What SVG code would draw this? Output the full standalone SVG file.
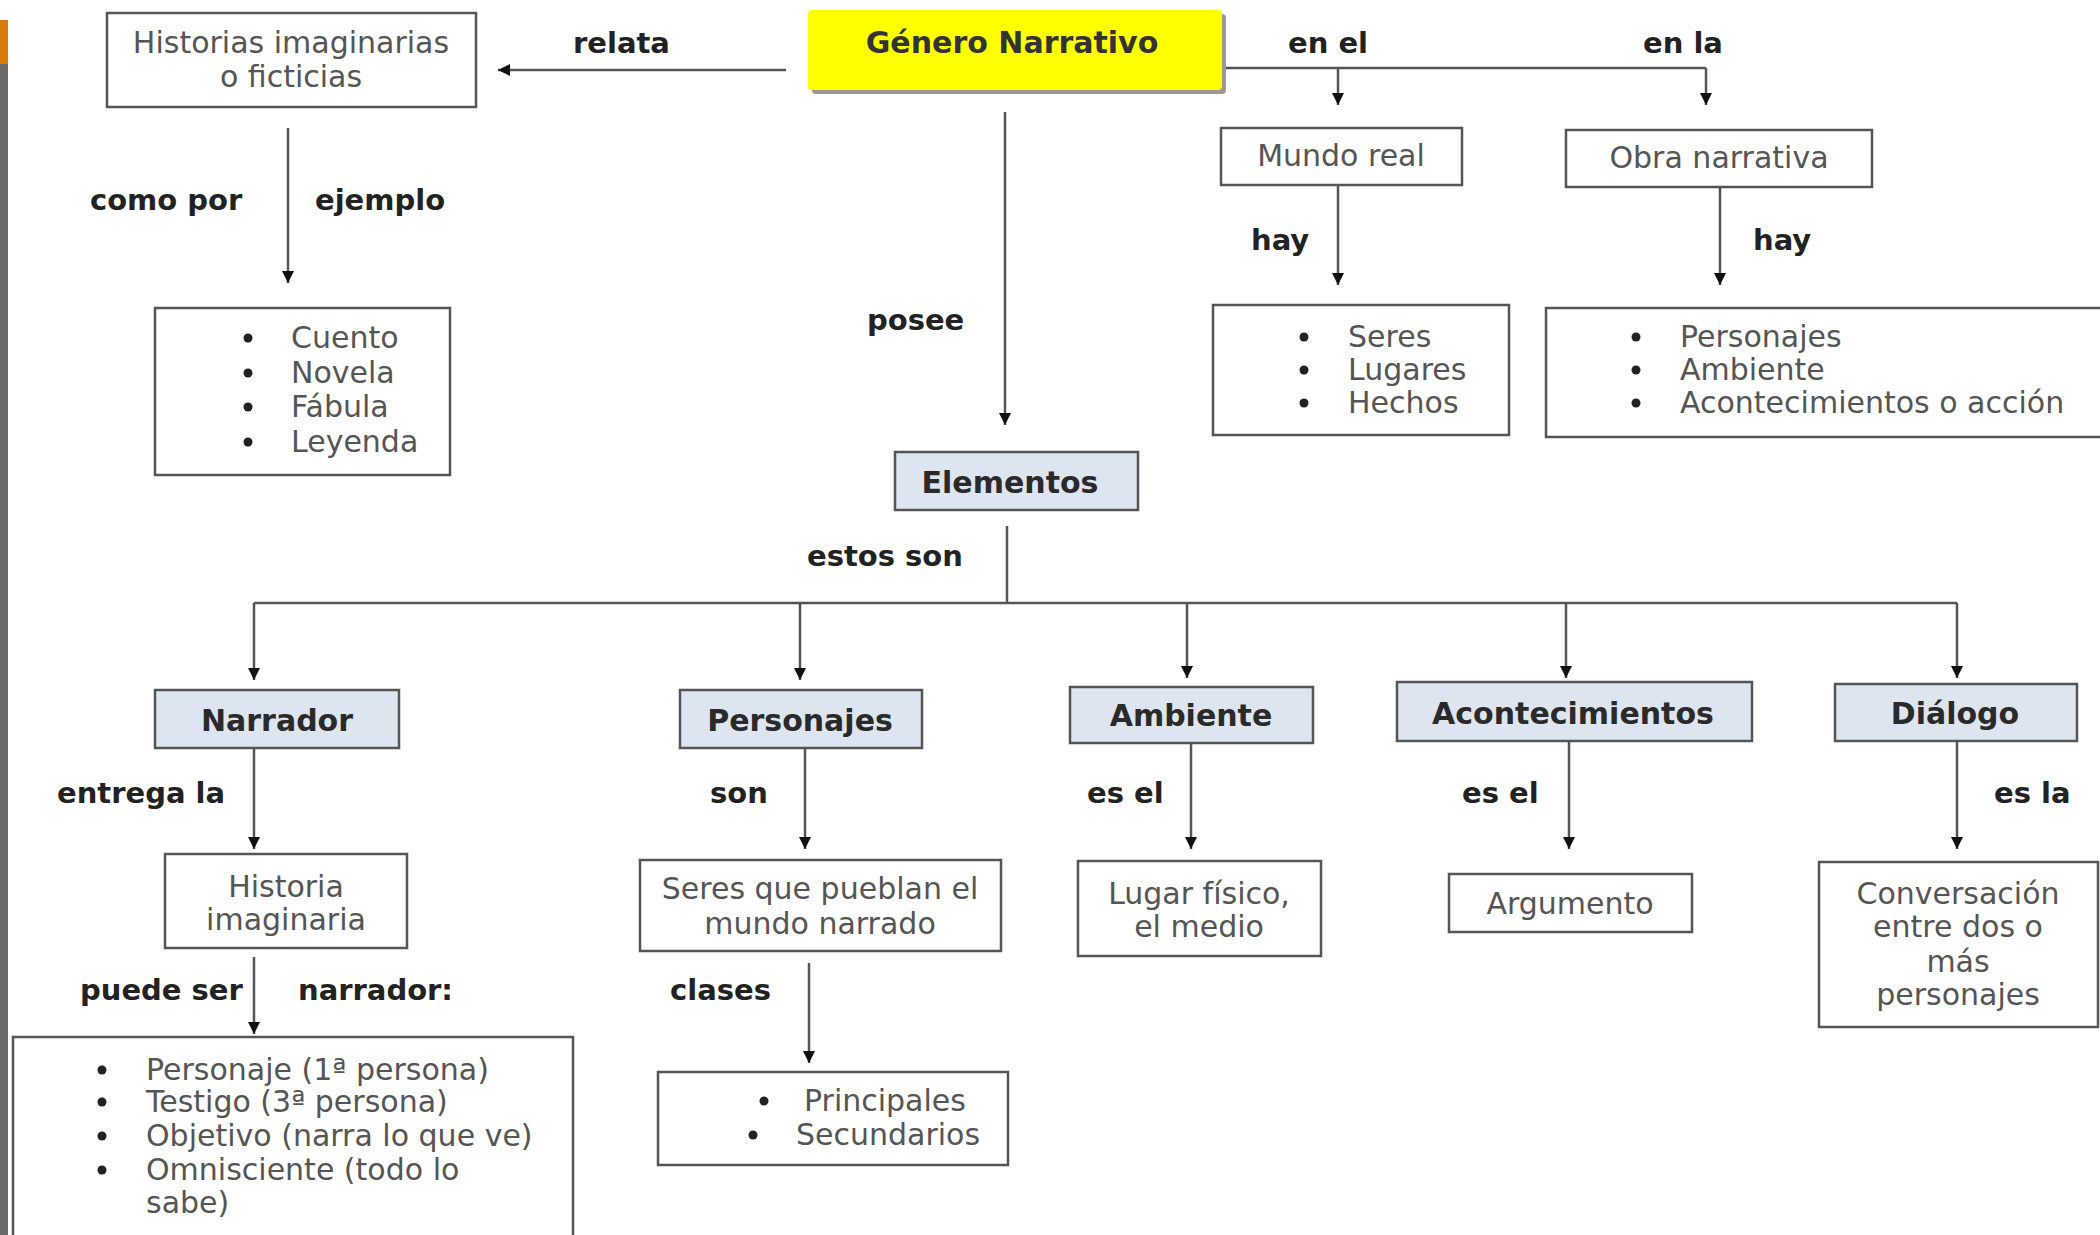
<svg xmlns="http://www.w3.org/2000/svg" width="2100" height="1235" viewBox="0 0 2100 1235">
<defs>
<marker id="ah" viewBox="0 0 10 10" refX="10" refY="5" markerWidth="12" markerHeight="15" markerUnits="userSpaceOnUse" orient="auto">
<path d="M0,0 L10,5 L0,10 z" fill="#111"/>
</marker>
<style>
.box{fill:#fff;stroke:#555;stroke-width:2.5}
.hdr{fill:#dde5f0;stroke:#555;stroke-width:2.5}
.t{font-family:"DejaVu Sans",Verdana,sans-serif;font-size:30px;fill:#555}
.tc{font-family:"DejaVu Sans",Verdana,sans-serif;font-size:30px;fill:#555;text-anchor:middle}
.h{font-family:"DejaVu Sans",Verdana,sans-serif;font-size:30px;font-weight:bold;fill:#2a2a2a;text-anchor:middle}
.lb{font-family:"DejaVu Sans",Verdana,sans-serif;font-size:29px;font-weight:bold;fill:#222}
.c{fill:none;stroke:#555;stroke-width:2.5}
.a{fill:none;stroke:#555;stroke-width:2.5;marker-end:url(#ah)}
.bul{fill:#222}
</style>
</defs>
<rect width="2100" height="1235" fill="#fff"/>
<rect x="0" y="20" width="8" height="44" fill="#d97b0a"/>
<rect x="0" y="64" width="8" height="1171" fill="#6a6a6a"/>

<g id="connectors">
<line class="a" x1="786" y1="70" x2="498" y2="70"/>
<line class="a" x1="288" y1="128" x2="288" y2="283"/>
<line class="a" x1="1005" y1="112" x2="1005" y2="425"/>
<polyline class="c" points="1222,68 1706,68"/>
<line class="a" x1="1338" y1="68" x2="1338" y2="105"/>
<line class="a" x1="1706" y1="68" x2="1706" y2="105"/>
<line class="a" x1="1338" y1="185" x2="1338" y2="285"/>
<line class="a" x1="1720" y1="187" x2="1720" y2="285"/>
<line class="c" x1="1007" y1="526" x2="1007" y2="603"/>
<line class="c" x1="254" y1="603" x2="1957" y2="603"/>
<line class="a" x1="254" y1="603" x2="254" y2="680"/>
<line class="a" x1="800" y1="603" x2="800" y2="680"/>
<line class="a" x1="1187" y1="603" x2="1187" y2="678"/>
<line class="a" x1="1566" y1="603" x2="1566" y2="678"/>
<line class="a" x1="1957" y1="603" x2="1957" y2="678"/>
<line class="a" x1="254" y1="748" x2="254" y2="849"/>
<line class="a" x1="805" y1="748" x2="805" y2="849"/>
<line class="a" x1="1191" y1="743" x2="1191" y2="849"/>
<line class="a" x1="1569" y1="741" x2="1569" y2="849"/>
<line class="a" x1="1957" y1="741" x2="1957" y2="849"/>
<line class="a" x1="254" y1="957" x2="254" y2="1034"/>
<line class="a" x1="809" y1="963" x2="809" y2="1063"/>
</g>

<g id="labels">
<text class="lb" x="573" y="53">relata</text>
<text class="lb" x="1288" y="53">en el</text>
<text class="lb" x="1643" y="53">en la</text>
<text class="lb" x="90" y="210">como por</text>
<text class="lb" x="315" y="210">ejemplo</text>
<text class="lb" x="867" y="330">posee</text>
<text class="lb" x="1251" y="250">hay</text>
<text class="lb" x="1753" y="250">hay</text>
<text class="lb" x="807" y="566">estos son</text>
<text class="lb" x="57" y="803">entrega la</text>
<text class="lb" x="710" y="803">son</text>
<text class="lb" x="1087" y="803">es el</text>
<text class="lb" x="1462" y="803">es el</text>
<text class="lb" x="1994" y="803">es la</text>
<text class="lb" x="80" y="1000">puede ser</text>
<text class="lb" x="298" y="1000">narrador:</text>
<text class="lb" x="670" y="1000">clases</text>
</g>

<g id="genero">
<rect x="812" y="14" width="414" height="80" rx="4" fill="#9a9a9a"/>
<rect x="808" y="10" width="414" height="80" rx="4" fill="#ffff00"/>
<text class="h" x="1012" y="53" style="fill:#333">Género Narrativo</text>
</g>

<g id="historias">
<rect class="box" x="107" y="13" width="369" height="94"/>
<text class="tc" x="291" y="53">Historias imaginarias</text>
<text class="tc" x="291" y="87">o ficticias</text>
</g>

<g id="ejemplos">
<rect class="box" x="155" y="308" width="295" height="167"/>
<circle class="bul" cx="248" cy="338" r="4.5"/><text class="t" x="291" y="348">Cuento</text>
<circle class="bul" cx="248" cy="373" r="4.5"/><text class="t" x="291" y="383">Novela</text>
<circle class="bul" cx="248" cy="407" r="4.5"/><text class="t" x="291" y="417">Fábula</text>
<circle class="bul" cx="248" cy="442" r="4.5"/><text class="t" x="291" y="452">Leyenda</text>
</g>

<g id="mundo-real">
<rect class="box" x="1221" y="128" width="241" height="57"/>
<text class="tc" x="1341" y="166">Mundo real</text>
</g>

<g id="obra-narrativa">
<rect class="box" x="1566" y="130" width="306" height="57"/>
<text class="tc" x="1719" y="168">Obra narrativa</text>
</g>

<g id="seres-lista">
<rect class="box" x="1213" y="305" width="296" height="130"/>
<circle class="bul" cx="1304" cy="337" r="4.5"/><text class="t" x="1348" y="347">Seres</text>
<circle class="bul" cx="1304" cy="370" r="4.5"/><text class="t" x="1348" y="380">Lugares</text>
<circle class="bul" cx="1304" cy="403" r="4.5"/><text class="t" x="1348" y="413">Hechos</text>
</g>

<g id="obra-lista">
<rect class="box" x="1546" y="308" width="570" height="129"/>
<circle class="bul" cx="1636" cy="337" r="4.5"/><text class="t" x="1680" y="347">Personajes</text>
<circle class="bul" cx="1636" cy="370" r="4.5"/><text class="t" x="1680" y="380">Ambiente</text>
<circle class="bul" cx="1636" cy="403" r="4.5"/><text class="t" x="1680" y="413">Acontecimientos o acción</text>
</g>

<g id="elementos">
<rect class="hdr" x="895" y="452" width="243" height="58"/>
<text class="h" x="1010" y="493">Elementos</text>
</g>

<g id="narrador">
<rect class="hdr" x="155" y="690" width="244" height="58"/>
<text class="h" x="277" y="731">Narrador</text>
</g>

<g id="personajes">
<rect class="hdr" x="680" y="690" width="242" height="58"/>
<text class="h" x="800" y="731">Personajes</text>
</g>

<g id="ambiente">
<rect class="hdr" x="1070" y="687" width="243" height="56"/>
<text class="h" x="1191" y="726">Ambiente</text>
</g>

<g id="acontecimientos">
<rect class="hdr" x="1397" y="682" width="355" height="59"/>
<text class="h" x="1573" y="724">Acontecimientos</text>
</g>

<g id="dialogo">
<rect class="hdr" x="1835" y="684" width="242" height="57"/>
<text class="h" x="1955" y="724">Diálogo</text>
</g>

<g id="historia-imaginaria">
<rect class="box" x="165" y="854" width="242" height="94"/>
<text class="tc" x="286" y="897">Historia</text>
<text class="tc" x="286" y="930">imaginaria</text>
</g>

<g id="seres-que-pueblan">
<rect class="box" x="640" y="860" width="361" height="91"/>
<text class="tc" x="820" y="899">Seres que pueblan el</text>
<text class="tc" x="820" y="934">mundo narrado</text>
</g>

<g id="lugar-fisico">
<rect class="box" x="1078" y="861" width="243" height="95"/>
<text class="tc" x="1199" y="904">Lugar físico,</text>
<text class="tc" x="1199" y="937">el medio</text>
</g>

<g id="argumento">
<rect class="box" x="1449" y="874" width="243" height="58"/>
<text class="tc" x="1570" y="914">Argumento</text>
</g>

<g id="conversacion">
<rect class="box" x="1819" y="862" width="279" height="165"/>
<text class="tc" x="1958" y="904">Conversación</text>
<text class="tc" x="1958" y="937">entre dos o</text>
<text class="tc" x="1958" y="972">más</text>
<text class="tc" x="1958" y="1005">personajes</text>
</g>

<g id="tipos-narrador">
<rect class="box" x="13" y="1037" width="560" height="220"/>
<circle class="bul" cx="102" cy="1070" r="4.5"/><text class="t" x="146" y="1080">Personaje (1ª persona)</text>
<circle class="bul" cx="102" cy="1102" r="4.5"/><text class="t" x="146" y="1112">Testigo (3ª persona)</text>
<circle class="bul" cx="102" cy="1136" r="4.5"/><text class="t" x="146" y="1146">Objetivo (narra lo que ve)</text>
<circle class="bul" cx="102" cy="1170" r="4.5"/><text class="t" x="146" y="1180">Omnisciente (todo lo</text>
<text class="t" x="146" y="1213">sabe)</text>
</g>

<g id="clases">
<rect class="box" x="658" y="1072" width="350" height="93"/>
<circle class="bul" cx="764" cy="1101" r="4.5"/><text class="t" x="804" y="1111">Principales</text>
<circle class="bul" cx="753" cy="1135" r="4.5"/><text class="t" x="796" y="1145">Secundarios</text>
</g>
</svg>
